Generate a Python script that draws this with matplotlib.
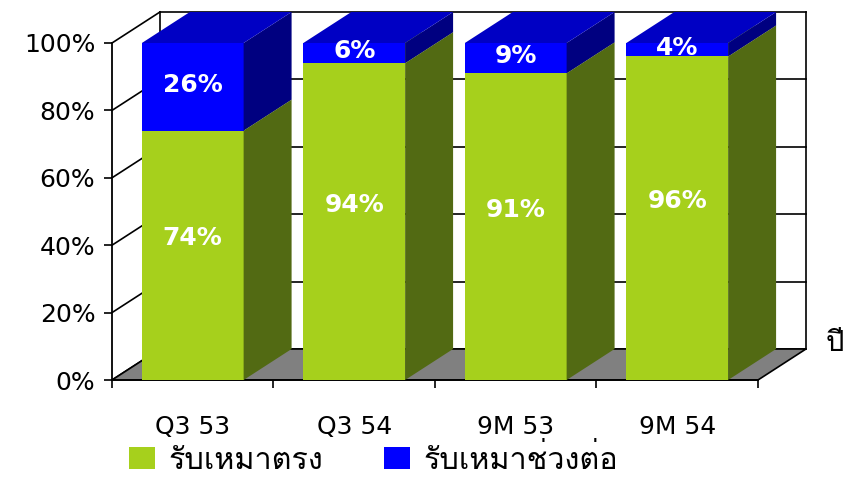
import matplotlib
matplotlib.use('Agg')
import matplotlib.pyplot as plt
import matplotlib.font_manager as fm
from matplotlib.ft2font import FT2Font
from matplotlib.patches import Polygon, Patch

# data
categories = ['Q3 53', 'Q3 54', '9M 53', '9M 54']
direct = [74, 94, 91, 96]        # รับเหมาตรง
subcontract = [26, 6, 9, 4]      # รับเหมาช่วงต่อ
yticks = [0, 20, 40, 60, 80, 100]
series_names = ['รับเหมาตรง', 'รับเหมาช่วงต่อ']
xaxis_title = 'ปี'

# find a font that has Thai glyphs
thai_font = None
for f in fm.fontManager.ttflist:
    try:
        if 0x0E23 in FT2Font(f.fname).get_charmap():
            thai_font = f.name
            break
    except Exception:
        pass
thai_family = [thai_font, 'DejaVu Sans'] if thai_font else ['DejaVu Sans']

plt.rcParams['font.family'] = ['DejaVu Sans']

# 3D look
DX, DY = 0.297, 9.2      # depth offset in data units
BW = 0.63                # bar width

green, green_side = '#a6d01c', '#526a13'
blue, blue_top, blue_side = '#0000ff', '#0000c4', '#000080'

fig = plt.figure(figsize=(8.45, 4.78), dpi=100)
ax = fig.add_axes([112 / 845, 98 / 478, 646 / 845, 337 / 478])
ax.set_xlim(0, len(categories))
ax.set_ylim(0, 100)
for s in ['top', 'right']:
    ax.spines[s].set_visible(False)
ax.spines['left'].set_linewidth(1.3)
ax.spines['bottom'].set_linewidth(1.3)

n = len(categories)

# back wall / side wall grid
for y in yticks:
    ax.plot([DX, n + DX], [y + DY, y + DY], color='black', lw=1.2, clip_on=False, zorder=1)
    ax.plot([0, DX], [y, y + DY], color='black', lw=1.2, clip_on=False, zorder=1)
ax.plot([DX, DX], [DY, 100 + DY], color='black', lw=1.2, clip_on=False, zorder=1)
ax.plot([n + DX, n + DX], [DY, 100 + DY], color='black', lw=1.2, clip_on=False, zorder=1)

# floor
ax.add_patch(Polygon([(0, 0), (n, 0), (n + DX, DY), (DX, DY)], closed=True,
                     facecolor='#808080', edgecolor='black', lw=1.2, clip_on=False, zorder=2))


def box(x0, y0, y1, front, top, side):
    x1 = x0 + BW
    ax.add_patch(Polygon([(x0, y0), (x1, y0), (x1, y1), (x0, y1)], closed=True,
                         facecolor=front, edgecolor='none', clip_on=False, zorder=3))
    ax.add_patch(Polygon([(x1, y0), (x1 + DX, y0 + DY), (x1 + DX, y1 + DY), (x1, y1)], closed=True,
                         facecolor=side, edgecolor='none', clip_on=False, zorder=3))
    ax.add_patch(Polygon([(x0, y1), (x1, y1), (x1 + DX, y1 + DY), (x0 + DX, y1 + DY)], closed=True,
                         facecolor=top, edgecolor='none', clip_on=False, zorder=3))


for i, (a, b) in enumerate(zip(direct, subcontract)):
    x0 = i + 0.5 - BW / 2
    box(x0, 0, a, green, green, green_side)
    box(x0, a, a + b, blue, blue_top, blue_side)
    ax.text(i + 0.5, a / 2 + 5, f'{a}%', color='white', fontsize=18, fontweight='bold',
            ha='center', va='center', zorder=5)
    ax.text(i + 0.5, a + b / 2 + 0.5, f'{b}%', color='white', fontsize=18, fontweight='bold',
            ha='center', va='center', zorder=5)

# axes ticks
ax.set_yticks(yticks)
ax.set_yticklabels([f'{v}%' for v in yticks], fontsize=18)
ax.tick_params(axis='y', length=6, width=1.2, pad=6)
ax.set_xticks(range(n + 1))
ax.set_xticklabels([])
ax.set_xticks([i + 0.5 for i in range(n)], minor=True)
ax.set_xticklabels(categories, minor=True, fontsize=18)
ax.tick_params(axis='x', which='major', length=6, width=1.2)
ax.tick_params(axis='x', which='minor', length=0, pad=25)

ax.text(1.105, 0.085, xaxis_title, transform=ax.transAxes, fontsize=21,
        family=thai_family, ha='left', va='baseline')

handles = [Patch(facecolor=green, edgecolor='none'), Patch(facecolor=blue, edgecolor='none')]
fig.legend(handles, series_names, loc='lower left', bbox_to_anchor=(0.127, -0.038), ncol=2,
           frameon=False, prop={'family': thai_family, 'size': 22}, handlelength=0.85,
           handleheight=0.75, columnspacing=2.0, handletextpad=0.45, borderpad=0.2)

fig.savefig('out.png', dpi=100)
